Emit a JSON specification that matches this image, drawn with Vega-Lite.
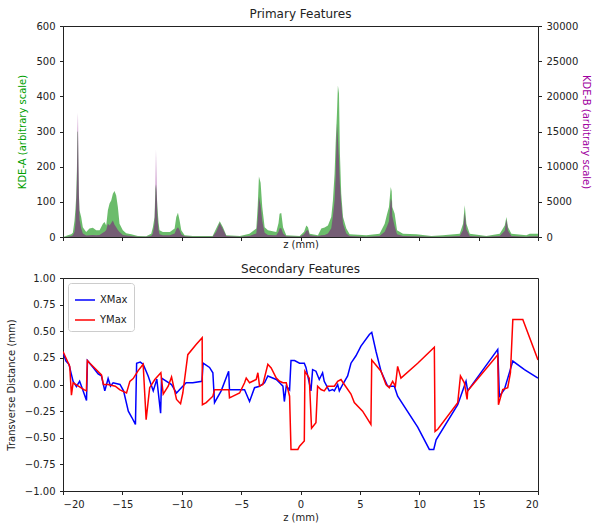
{
  "$schema": "https://vega.github.io/schema/vega-lite/v6.json",
  "padding": {"left": 5, "right": 1, "top": 7, "bottom": 0},
  "config": {
    "font": "DejaVu Sans",
    "view": {"stroke": "#222", "strokeWidth": 1},
    "axis": {"grid": false, "domainColor": "#222", "tickColor": "#222", "labelColor": "#222", "labelFontSize": 10, "titleFontSize": 10, "titleFontWeight": "normal", "titleColor": "#222", "tickSize": 3.5, "labelPadding": 4.5, "titlePadding": 5},
    "title": {"fontSize": 12, "fontWeight": "normal", "color": "#222", "offset": 0},
    "concat": {"spacing": 12}
  },
  "resolve": {"legend": {"color": "independent"}},
  "datasets": {
    "kde": [
      {"z": -20, "a": 0, "b": 0}, {"z": -19.8, "a": 2, "b": 0}, {"z": -19.6, "a": 5, "b": 50}, {"z": -19.3, "a": 8, "b": 150},
      {"z": -19.17, "a": 12, "b": 250}, {"z": -19.03, "a": 47, "b": 750}, {"z": -18.95, "a": 80, "b": 2000}, {"z": -18.89, "a": 114, "b": 4500},
      {"z": -18.83, "a": 190, "b": 8000}, {"z": -18.78, "a": 300, "b": 15000}, {"z": -18.74, "a": 299, "b": 17650}, {"z": -18.7, "a": 200, "b": 11000},
      {"z": -18.66, "a": 120, "b": 6000}, {"z": -18.61, "a": 76, "b": 2500}, {"z": -18.47, "a": 57, "b": 1250}, {"z": -18.33, "a": 28, "b": 500},
      {"z": -18.05, "a": 14, "b": 200}, {"z": -17.77, "a": 24, "b": 250}, {"z": -17.49, "a": 26, "b": 300}, {"z": -17.2, "a": 19, "b": 250},
      {"z": -16.92, "a": 19, "b": 300}, {"z": -16.64, "a": 38, "b": 600}, {"z": -16.5, "a": 43, "b": 750}, {"z": -16.36, "a": 33, "b": 1000},
      {"z": -16.22, "a": 76, "b": 1900}, {"z": -16.08, "a": 95, "b": 1650}, {"z": -15.94, "a": 104, "b": 2000}, {"z": -15.8, "a": 123, "b": 2350},
      {"z": -15.66, "a": 131, "b": 1750}, {"z": -15.52, "a": 118, "b": 1400}, {"z": -15.38, "a": 85, "b": 1000}, {"z": -15.24, "a": 38, "b": 700},
      {"z": -14.96, "a": 19, "b": 300}, {"z": -14.68, "a": 11, "b": 200}, {"z": -14.26, "a": 8, "b": 150}, {"z": -13.7, "a": 3, "b": 50},
      {"z": -13.0, "a": 2, "b": 50}, {"z": -12.57, "a": 9, "b": 150}, {"z": -12.43, "a": 28, "b": 500}, {"z": -12.29, "a": 57, "b": 2000},
      {"z": -12.22, "a": 137, "b": 6000}, {"z": -12.17, "a": 150, "b": 12400}, {"z": -12.12, "a": 130, "b": 7500}, {"z": -12.05, "a": 85, "b": 3000},
      {"z": -11.95, "a": 40, "b": 1000}, {"z": -11.87, "a": 19, "b": 400}, {"z": -11.59, "a": 14, "b": 250}, {"z": -11.0, "a": 14, "b": 250},
      {"z": -10.6, "a": 24, "b": 500}, {"z": -10.46, "a": 57, "b": 1100}, {"z": -10.32, "a": 69, "b": 1400}, {"z": -10.18, "a": 47, "b": 1000},
      {"z": -10.04, "a": 19, "b": 400}, {"z": -9.76, "a": 5, "b": 100}, {"z": -9.06, "a": 3, "b": 50}, {"z": -7.4, "a": 3, "b": 50},
      {"z": -7.1, "a": 24, "b": 750}, {"z": -6.8, "a": 45, "b": 2000}, {"z": -6.53, "a": 28, "b": 1100}, {"z": -6.25, "a": 5, "b": 150},
      {"z": -5.1, "a": 3, "b": 50}, {"z": -4.3, "a": 9, "b": 150}, {"z": -3.72, "a": 24, "b": 500}, {"z": -3.6, "a": 90, "b": 2500},
      {"z": -3.5, "a": 172, "b": 5700}, {"z": -3.36, "a": 154, "b": 4500}, {"z": -3.22, "a": 85, "b": 2250}, {"z": -3.02, "a": 28, "b": 600},
      {"z": -2.74, "a": 19, "b": 300}, {"z": -2.04, "a": 14, "b": 250}, {"z": -1.85, "a": 40, "b": 750}, {"z": -1.76, "a": 66, "b": 1250},
      {"z": -1.62, "a": 68, "b": 1250}, {"z": -1.47, "a": 28, "b": 500}, {"z": -1.2, "a": 5, "b": 100}, {"z": -0.07, "a": 3, "b": 50},
      {"z": 0.3, "a": 15, "b": 400}, {"z": 0.49, "a": 33, "b": 900}, {"z": 0.63, "a": 28, "b": 1000}, {"z": 0.77, "a": 9, "b": 250},
      {"z": 1.47, "a": 5, "b": 100}, {"z": 1.75, "a": 24, "b": 250}, {"z": 2.03, "a": 27, "b": 300}, {"z": 2.31, "a": 33, "b": 500},
      {"z": 2.59, "a": 57, "b": 1250}, {"z": 2.73, "a": 104, "b": 3000}, {"z": 2.87, "a": 180, "b": 5200}, {"z": 2.96, "a": 265, "b": 8500},
      {"z": 3.07, "a": 351, "b": 16100}, {"z": 3.15, "a": 431, "b": 14000}, {"z": 3.24, "a": 408, "b": 10900}, {"z": 3.32, "a": 237, "b": 7500},
      {"z": 3.43, "a": 123, "b": 4750}, {"z": 3.58, "a": 57, "b": 1900}, {"z": 3.86, "a": 24, "b": 500}, {"z": 4.14, "a": 8, "b": 150},
      {"z": 5.54, "a": 5, "b": 50}, {"z": 6.66, "a": 9, "b": 150}, {"z": 7.09, "a": 38, "b": 750}, {"z": 7.28, "a": 64, "b": 1500},
      {"z": 7.45, "a": 85, "b": 2250}, {"z": 7.6, "a": 142, "b": 5500}, {"z": 7.68, "a": 130, "b": 5000}, {"z": 7.73, "a": 85, "b": 3000},
      {"z": 7.93, "a": 66, "b": 1500}, {"z": 8.13, "a": 19, "b": 400}, {"z": 8.63, "a": 9, "b": 150}, {"z": 9.76, "a": 8, "b": 100},
      {"z": 11.02, "a": 3, "b": 50}, {"z": 12.0, "a": 5, "b": 50}, {"z": 13.41, "a": 9, "b": 150}, {"z": 13.69, "a": 38, "b": 1000},
      {"z": 13.83, "a": 90, "b": 3500}, {"z": 13.97, "a": 38, "b": 1100}, {"z": 14.25, "a": 9, "b": 150}, {"z": 15.65, "a": 3, "b": 50},
      {"z": 16.78, "a": 9, "b": 150}, {"z": 17.2, "a": 33, "b": 900}, {"z": 17.34, "a": 57, "b": 2500}, {"z": 17.48, "a": 28, "b": 900},
      {"z": 17.76, "a": 9, "b": 150}, {"z": 19.02, "a": 5, "b": 50}, {"z": 19.3, "a": 9, "b": 100}, {"z": 20, "a": 9, "b": 100}
    ],
    "trans": [
      {"s": "XMax", "z": -20.0, "v": 0.30}, {"s": "XMax", "z": -19.75, "v": 0.22}, {"s": "XMax", "z": -19.5, "v": 0.19}, {"s": "XMax", "z": -19.15, "v": 0.03},
      {"s": "XMax", "z": -18.87, "v": -0.02}, {"s": "XMax", "z": -18.6, "v": 0.03}, {"s": "XMax", "z": -18.4, "v": -0.03}, {"s": "XMax", "z": -18.02, "v": -0.15},
      {"s": "XMax", "z": -17.94, "v": 0.225}, {"s": "XMax", "z": -17.46, "v": 0.16}, {"s": "XMax", "z": -17.04, "v": 0.10}, {"s": "XMax", "z": -16.76, "v": 0.08},
      {"s": "XMax", "z": -16.48, "v": -0.06}, {"s": "XMax", "z": -16.2, "v": 0.056}, {"s": "XMax", "z": -16.0, "v": -0.015}, {"s": "XMax", "z": -15.78, "v": 0.016},
      {"s": "XMax", "z": -15.2, "v": 0.0}, {"s": "XMax", "z": -14.9, "v": -0.06}, {"s": "XMax", "z": -14.5, "v": -0.25}, {"s": "XMax", "z": -14.2, "v": -0.31},
      {"s": "XMax", "z": -13.9, "v": -0.375}, {"s": "XMax", "z": -13.8, "v": 0.2}, {"s": "XMax", "z": -13.5, "v": 0.21}, {"s": "XMax", "z": -13.25, "v": 0.19},
      {"s": "XMax", "z": -12.83, "v": 0.08}, {"s": "XMax", "z": -12.4, "v": -0.06}, {"s": "XMax", "z": -12.1, "v": 0.05}, {"s": "XMax", "z": -11.78, "v": -0.27},
      {"s": "XMax", "z": -11.7, "v": 0.06}, {"s": "XMax", "z": -10.86, "v": 0.0}, {"s": "XMax", "z": -10.44, "v": -0.08}, {"s": "XMax", "z": -10.19, "v": -0.05},
      {"s": "XMax", "z": -9.63, "v": 0.016}, {"s": "XMax", "z": -9.07, "v": 0.016}, {"s": "XMax", "z": -8.3, "v": 0.03}, {"s": "XMax", "z": -8.2, "v": 0.2},
      {"s": "XMax", "z": -7.66, "v": 0.16}, {"s": "XMax", "z": -7.38, "v": 0.11}, {"s": "XMax", "z": -7.24, "v": -0.17}, {"s": "XMax", "z": -6.68, "v": -0.06},
      {"s": "XMax", "z": -6.05, "v": 0.125}, {"s": "XMax", "z": -5.98, "v": -0.05}, {"s": "XMax", "z": -4.71, "v": -0.05}, {"s": "XMax", "z": -4.29, "v": -0.16},
      {"s": "XMax", "z": -3.87, "v": -0.03}, {"s": "XMax", "z": -3.45, "v": -0.016}, {"s": "XMax", "z": -3.03, "v": 0.016}, {"s": "XMax", "z": -2.75, "v": 0.08},
      {"s": "XMax", "z": -2.04, "v": 0.047}, {"s": "XMax", "z": -1.76, "v": 0.016}, {"s": "XMax", "z": -1.48, "v": -0.016}, {"s": "XMax", "z": -1.36, "v": -0.16},
      {"s": "XMax", "z": -1.2, "v": -0.016}, {"s": "XMax", "z": -0.92, "v": -0.05}, {"s": "XMax", "z": -0.8, "v": 0.225}, {"s": "XMax", "z": -0.5, "v": 0.225},
      {"s": "XMax", "z": -0.08, "v": 0.2}, {"s": "XMax", "z": 0.32, "v": 0.2}, {"s": "XMax", "z": 0.46, "v": 0.16}, {"s": "XMax", "z": 0.88, "v": -0.06},
      {"s": "XMax", "z": 1.02, "v": 0.14}, {"s": "XMax", "z": 1.3, "v": 0.125}, {"s": "XMax", "z": 1.58, "v": 0.047}, {"s": "XMax", "z": 1.86, "v": 0.11},
      {"s": "XMax", "z": 2.0, "v": 0.03}, {"s": "XMax", "z": 2.42, "v": -0.06}, {"s": "XMax", "z": 2.7, "v": -0.047}, {"s": "XMax", "z": 2.85, "v": -0.06},
      {"s": "XMax", "z": 3.13, "v": 0.0}, {"s": "XMax", "z": 3.27, "v": -0.06}, {"s": "XMax", "z": 3.55, "v": 0.0}, {"s": "XMax", "z": 3.97, "v": 0.08},
      {"s": "XMax", "z": 4.25, "v": 0.2}, {"s": "XMax", "z": 4.67, "v": 0.27}, {"s": "XMax", "z": 5.09, "v": 0.36}, {"s": "XMax", "z": 5.8, "v": 0.47},
      {"s": "XMax", "z": 6.0, "v": 0.49}, {"s": "XMax", "z": 6.36, "v": 0.31}, {"s": "XMax", "z": 6.78, "v": 0.125}, {"s": "XMax", "z": 7.34, "v": -0.016},
      {"s": "XMax", "z": 7.9, "v": -0.016}, {"s": "XMax", "z": 8.18, "v": -0.11}, {"s": "XMax", "z": 9.87, "v": -0.40}, {"s": "XMax", "z": 10.85, "v": -0.61},
      {"s": "XMax", "z": 11.22, "v": -0.61}, {"s": "XMax", "z": 11.42, "v": -0.52}, {"s": "XMax", "z": 13.24, "v": -0.19}, {"s": "XMax", "z": 13.94, "v": 0.03},
      {"s": "XMax", "z": 14.08, "v": -0.06}, {"s": "XMax", "z": 16.61, "v": 0.33}, {"s": "XMax", "z": 16.75, "v": -0.11}, {"s": "XMax", "z": 17.17, "v": -0.047},
      {"s": "XMax", "z": 17.88, "v": 0.22}, {"s": "XMax", "z": 18.86, "v": 0.14}, {"s": "XMax", "z": 20.0, "v": 0.06},
      {"s": "YMax", "z": -20.0, "v": 0.31}, {"s": "YMax", "z": -19.43, "v": 0.17}, {"s": "YMax", "z": -19.29, "v": -0.10}, {"s": "YMax", "z": -19.15, "v": 0.016},
      {"s": "YMax", "z": -18.7, "v": -0.016}, {"s": "YMax", "z": -18.2, "v": -0.05}, {"s": "YMax", "z": -18.03, "v": -0.06}, {"s": "YMax", "z": -17.95, "v": 0.225},
      {"s": "YMax", "z": -17.74, "v": 0.2}, {"s": "YMax", "z": -16.76, "v": 0.09}, {"s": "YMax", "z": -16.6, "v": 0.0}, {"s": "YMax", "z": -16.2, "v": 0.0},
      {"s": "YMax", "z": -15.6, "v": -0.016}, {"s": "YMax", "z": -15.2, "v": -0.05}, {"s": "YMax", "z": -14.65, "v": -0.08}, {"s": "YMax", "z": -14.37, "v": 0.03},
      {"s": "YMax", "z": -14.09, "v": 0.056}, {"s": "YMax", "z": -13.67, "v": 0.13}, {"s": "YMax", "z": -13.25, "v": 0.19}, {"s": "YMax", "z": -13.0, "v": -0.33},
      {"s": "YMax", "z": -12.7, "v": -0.03}, {"s": "YMax", "z": -12.27, "v": 0.047}, {"s": "YMax", "z": -11.76, "v": 0.11}, {"s": "YMax", "z": -11.56, "v": -0.09},
      {"s": "YMax", "z": -11.14, "v": -0.016}, {"s": "YMax", "z": -10.86, "v": 0.07}, {"s": "YMax", "z": -10.44, "v": -0.14}, {"s": "YMax", "z": -10.1, "v": -0.18},
      {"s": "YMax", "z": -9.91, "v": -0.08}, {"s": "YMax", "z": -9.49, "v": 0.28}, {"s": "YMax", "z": -8.79, "v": 0.375}, {"s": "YMax", "z": -8.28, "v": 0.44},
      {"s": "YMax", "z": -8.26, "v": -0.19}, {"s": "YMax", "z": -7.94, "v": -0.17}, {"s": "YMax", "z": -7.38, "v": -0.11}, {"s": "YMax", "z": -7.24, "v": -0.05},
      {"s": "YMax", "z": -6.03, "v": -0.05}, {"s": "YMax", "z": -5.98, "v": -0.125}, {"s": "YMax", "z": -5.13, "v": -0.08}, {"s": "YMax", "z": -4.71, "v": 0.016},
      {"s": "YMax", "z": -4.57, "v": 0.06}, {"s": "YMax", "z": -4.29, "v": 0.016}, {"s": "YMax", "z": -3.73, "v": 0.047}, {"s": "YMax", "z": -3.59, "v": 0.11},
      {"s": "YMax", "z": -3.45, "v": -0.016}, {"s": "YMax", "z": -3.17, "v": 0.0}, {"s": "YMax", "z": -2.75, "v": 0.19}, {"s": "YMax", "z": -2.47, "v": 0.156},
      {"s": "YMax", "z": -2.04, "v": 0.06}, {"s": "YMax", "z": -1.76, "v": 0.03}, {"s": "YMax", "z": -1.48, "v": 0.016}, {"s": "YMax", "z": -1.2, "v": 0.016},
      {"s": "YMax", "z": -0.92, "v": -0.11}, {"s": "YMax", "z": -0.8, "v": -0.61}, {"s": "YMax", "z": -0.22, "v": -0.61}, {"s": "YMax", "z": -0.08, "v": -0.58},
      {"s": "YMax", "z": 0.32, "v": -0.53}, {"s": "YMax", "z": 0.37, "v": 0.125}, {"s": "YMax", "z": 0.74, "v": 0.06}, {"s": "YMax", "z": 0.93, "v": -0.41},
      {"s": "YMax", "z": 1.3, "v": -0.36}, {"s": "YMax", "z": 1.44, "v": -0.016}, {"s": "YMax", "z": 1.72, "v": -0.047}, {"s": "YMax", "z": 2.0, "v": -0.06},
      {"s": "YMax", "z": 2.28, "v": -0.016}, {"s": "YMax", "z": 2.85, "v": -0.016}, {"s": "YMax", "z": 3.13, "v": 0.03}, {"s": "YMax", "z": 3.41, "v": 0.047},
      {"s": "YMax", "z": 3.69, "v": 0.0}, {"s": "YMax", "z": 4.25, "v": -0.09}, {"s": "YMax", "z": 4.53, "v": -0.17}, {"s": "YMax", "z": 5.23, "v": -0.25},
      {"s": "YMax", "z": 5.93, "v": -0.375}, {"s": "YMax", "z": 6.0, "v": 0.23}, {"s": "YMax", "z": 6.78, "v": 0.125}, {"s": "YMax", "z": 7.2, "v": 0.0},
      {"s": "YMax", "z": 7.48, "v": -0.03}, {"s": "YMax", "z": 7.76, "v": 0.03}, {"s": "YMax", "z": 7.99, "v": -0.016}, {"s": "YMax", "z": 8.18, "v": 0.17},
      {"s": "YMax", "z": 8.46, "v": 0.06}, {"s": "YMax", "z": 9.87, "v": 0.2}, {"s": "YMax", "z": 11.27, "v": 0.35}, {"s": "YMax", "z": 11.33, "v": -0.44},
      {"s": "YMax", "z": 11.56, "v": -0.42}, {"s": "YMax", "z": 13.24, "v": -0.17}, {"s": "YMax", "z": 13.47, "v": 0.08}, {"s": "YMax", "z": 13.8, "v": 0.016},
      {"s": "YMax", "z": 14.03, "v": -0.14}, {"s": "YMax", "z": 14.08, "v": -0.06}, {"s": "YMax", "z": 16.61, "v": 0.28}, {"s": "YMax", "z": 16.67, "v": -0.19},
      {"s": "YMax", "z": 17.03, "v": -0.047}, {"s": "YMax", "z": 17.45, "v": -0.03}, {"s": "YMax", "z": 17.68, "v": 0.11}, {"s": "YMax", "z": 17.88, "v": 0.61},
      {"s": "YMax", "z": 18.72, "v": 0.61}, {"s": "YMax", "z": 20.0, "v": 0.23}
    ]
  },
  "vconcat": [
    {
      "title": {"text": "Primary Features", "offset": 0},
      "width": 475,
      "height": 211,
      "data": {"name": "kde"},
      "encoding": {
        "x": {"field": "z", "type": "quantitative", "scale": {"domain": [-20, 20], "nice": false},
              "axis": {"labels": false, "values": [-20, -15, -10, -5, 0, 5, 10, 15, 20], "title": "z (mm)", "titlePadding": -2}}
      },
      "layer": [
        {
          "mark": {"type": "area", "color": "#2ca02c", "opacity": 0.7, "clip": true},
          "encoding": {
            "y": {"field": "a", "type": "quantitative", "scale": {"domain": [0, 600], "nice": false},
                  "axis": {"values": [0, 100, 200, 300, 400, 500, 600], "title": "KDE-A (arbitrary scale)", "titleColor": "#00a000", "titlePadding": 8.5}}
          }
        },
        {
          "mark": {"type": "area", "color": "#800080", "opacity": 0.5, "clip": true},
          "encoding": {
            "y": {"field": "b", "type": "quantitative", "scale": {"domain": [0, 30000], "nice": false},
                  "axis": {"orient": "right", "values": [0, 5000, 10000, 15000, 20000, 25000, 30000], "format": "d", "title": "KDE-B (arbitrary scale)", "titleColor": "#a000a0", "titlePadding": 3}}
          }
        }
      ],
      "resolve": {"scale": {"y": "independent"}}
    },
    {
      "title": {"text": "Secondary Features", "offset": -3},
      "width": 475,
      "height": 213,
      "data": {"name": "trans"},
      "mark": {"type": "line", "strokeWidth": 1.5, "clip": true},
      "encoding": {
        "x": {"field": "z", "type": "quantitative", "scale": {"domain": [-20, 20], "nice": false},
              "axis": {"values": [-20, -15, -10, -5, 0, 5, 10, 15, 20], "title": "z (mm)", "titlePadding": 3}},
        "y": {"field": "v", "type": "quantitative", "scale": {"domain": [-1, 1], "nice": false},
              "axis": {"values": [-1, -0.75, -0.5, -0.25, 0, 0.25, 0.5, 0.75, 1], "format": ".2f", "title": "Transverse Distance (mm)", "titlePadding": 8}},
        "color": {"field": "s", "type": "nominal", "scale": {"domain": ["XMax", "YMax"], "range": ["#0000ff", "#ff0000"]},
                  "legend": {"title": null, "orient": "top-left", "offset": 5, "strokeColor": "#cccccc", "fillColor": "white", "padding": 6, "cornerRadius": 3,
                             "symbolType": "stroke", "symbolStrokeWidth": 1.5, "symbolSize": 400, "labelFontSize": 10, "labelColor": "#222", "rowPadding": 4}}
      }
    }
  ]
}
